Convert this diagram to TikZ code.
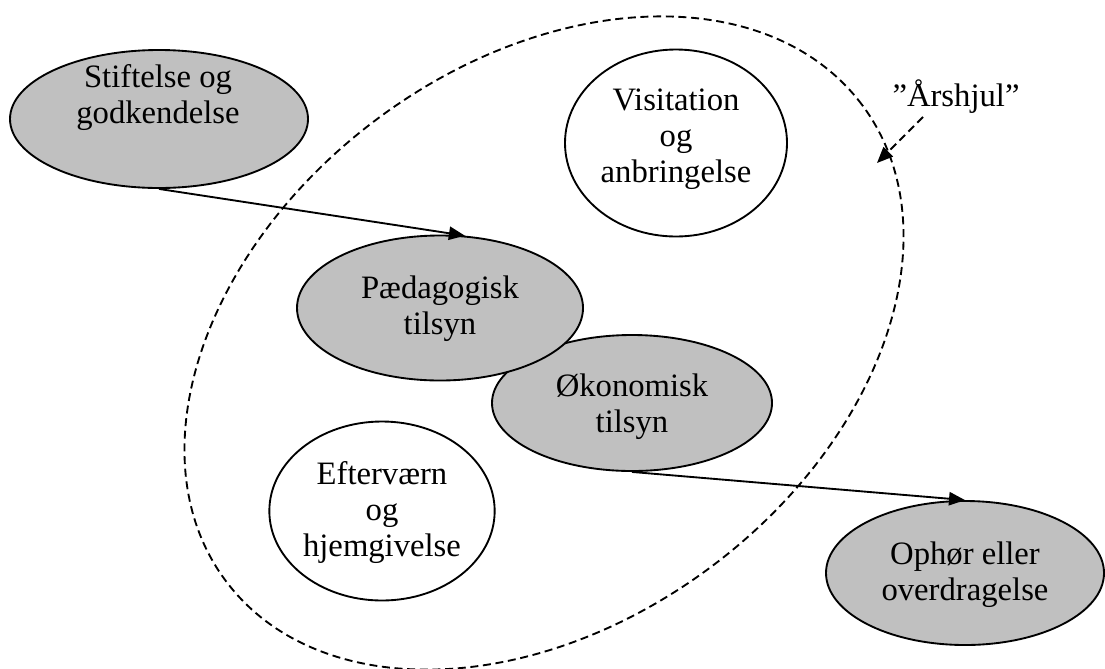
\documentclass[tikz,border=0pt]{standalone}
\usepackage{fontspec}
\setmainfont{Liberation Serif}
\usetikzlibrary{shapes.geometric,arrows.meta}
\definecolor{panelgray}{RGB}{192,192,192}
\tikzset{
  stage/.style={ellipse, draw=black, line width=1.4pt, inner sep=0pt},
  shaded/.style={stage, fill=panelgray},
  open/.style={stage, fill=white},
  lbl/.style={align=center, inner sep=0pt, font=\fontsize{24.5}{27}\selectfont},
  dashline/.style={line width=1.4pt, dash pattern=on 6pt off 3.5pt},
  flow/.style={line width=1.4pt, -{Triangle[length=12pt,width=10pt]}},
}
\begin{document}
\begin{tikzpicture}[x=0.75pt, y=-0.75pt]
  \useasboundingbox (0,0) rectangle (1105,668);

  % the yearly cycle
  \node[ellipse, draw=black, dashline, inner sep=0pt,
        minimum width=596pt, minimum height=419pt, rotate=36.8]
        (ring) at (544,343) {};

  % stages
  \node[shaded, minimum width=223.5pt, minimum height=103.5pt] (stift) at (159,119) {};
  \node[open,   minimum width=166.5pt, minimum height=140.25pt] (visit) at (676,143) {};
  \node[shaded, minimum width=210pt,   minimum height=102pt]   (okon)  at (632,403) {};
  \node[shaded, minimum width=214.5pt, minimum height=108.75pt] (ped)  at (440,308) {};
  \node[open,   minimum width=169pt,   minimum height=134.25pt] (efter) at (382,511) {};
  \node[shaded, minimum width=208.5pt, minimum height=108pt]   (oph)   at (965,573) {};

  % labels
  \node[lbl] (tstift) at (158,98)  {Stiftelse og\\godkendelse};
  \node[lbl] (tvisit) at (676,139) {Visitation\\og\\anbringelse};
  \node[lbl] (tped)   at (440,309) {Pædagogisk\\tilsyn};
  \node[lbl] (tokon)  at (632,407) {Økonomisk\\tilsyn};
  \node[lbl] (tefter) at (382,513) {Efterværn\\og\\hjemgivelse};
  \node[lbl] (toph)   at (965,575) {Ophør eller\\overdragelse};
  \node[lbl] (aars)   at (956,97)  {”Årshjul”};

  % connectors
  \draw[flow] (stift.south) -- (ped.71);
  \draw[flow] (okon.south) -- (oph.north);
  \coordinate (aarsfoot) at (923,117);
  \coordinate (ringmark) at (877,163);
  \draw[flow, dashline] (aarsfoot) -- (ringmark);
\end{tikzpicture}
\end{document}
